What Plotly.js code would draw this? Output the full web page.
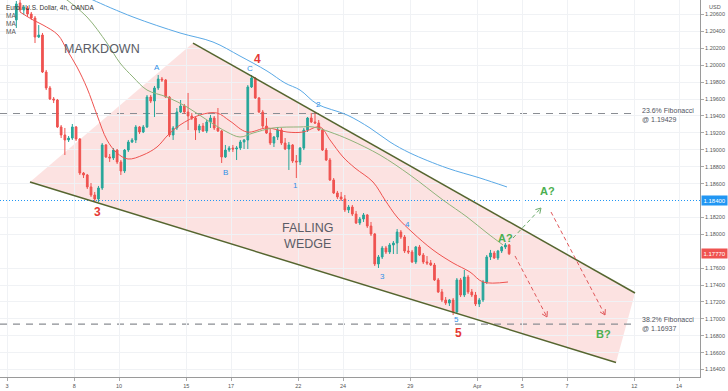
<!DOCTYPE html>
<html><head><meta charset="utf-8">
<script src="https://cdn.plot.ly/plotly-3.0.1.min.js"></script>
<style>html,body{margin:0;padding:0;background:#fff;}#chart{width:728px;height:391px;}</style>
</head><body><div id="chart"></div>
<script>
// ---- EUR/USD 4h candles ----
const open = [
1.20536,1.20737,1.20654,1.20677,1.20606,1.20559,1.20334,1.20358,1.19920,1.19731,
1.19601,1.19589,1.19270,1.19175,1.19116,1.19139,1.19270,1.19128,1.18725,1.18702,
1.18560,1.18465,1.18418,1.18548,1.19057,1.18915,1.18903,1.18997,1.18856,1.18749,
1.18997,1.19092,1.19116,1.19270,1.19210,1.19270,1.19624,1.19577,1.19731,1.19837,
1.19826,1.19624,1.19175,1.19258,1.19447,1.19518,1.19447,1.19400,1.19376,1.19234,
1.19281,1.19222,1.19329,1.19376,1.19258,1.19222,1.18915,1.18997,1.19021,1.19009,
1.19021,1.19092,1.19116,1.19743,1.19849,1.19613,1.19447,1.19281,1.19198,1.19080,
1.19151,1.19234,1.19080,1.19009,1.19057,1.18867,1.18856,1.19021,1.19234,1.19376,
1.19329,1.19317,1.19234,1.18997,1.18879,1.18643,1.18489,1.18442,1.18418,1.18288,
1.18323,1.18240,1.18134,1.18181,1.18229,1.18098,1.18004,1.17649,1.17732,1.17838,
1.17791,1.17874,1.17897,1.18027,1.17968,1.17803,1.17791,1.17673,1.17850,1.17755,
1.17673,1.17661,1.17637,1.17460,1.17318,1.17223,1.17187,1.17223,1.17081,1.17460,
1.17282,1.17495,1.17318,1.17282,1.17176,1.17223,1.17436,1.17732,1.17779,1.17720,
1.17803,1.17850,1.17874];
const high = [
1.20760,1.20772,1.20713,1.20701,1.20630,1.20583,1.20476,1.20382,1.19944,1.19755,
1.19624,1.19601,1.19293,1.19258,1.19163,1.19305,1.19281,1.19139,1.18737,1.18714,
1.18607,1.18501,1.18572,1.19080,1.19068,1.18950,1.19021,1.19009,1.18879,1.19009,
1.19116,1.19139,1.19293,1.19281,1.19293,1.19648,1.19648,1.19755,1.19885,1.19861,
1.19837,1.19636,1.19281,1.19494,1.19589,1.19542,1.19672,1.19435,1.19388,1.19305,
1.19317,1.19352,1.19412,1.19400,1.19494,1.19234,1.19057,1.19045,1.19057,1.19045,
1.19116,1.19128,1.19766,1.19885,1.19861,1.19624,1.19471,1.19376,1.19258,1.19163,
1.19270,1.19258,1.19139,1.19092,1.19068,1.18938,1.19033,1.19258,1.19388,1.19435,
1.19447,1.19352,1.19246,1.19021,1.18903,1.18666,1.18513,1.18501,1.18465,1.18347,
1.18347,1.18276,1.18205,1.18252,1.18240,1.18146,1.18016,1.17755,1.17862,1.17862,
1.17897,1.17921,1.18063,1.18051,1.17992,1.17862,1.17815,1.17862,1.17874,1.17779,
1.17743,1.17696,1.17661,1.17483,1.17353,1.17258,1.17235,1.17247,1.17483,1.17483,
1.17578,1.17519,1.17353,1.17318,1.17247,1.17460,1.17755,1.17815,1.17803,1.17815,
1.17862,1.17897,1.17885];
const low = [
1.20441,1.20630,1.20595,1.20571,1.20536,1.20263,1.20322,1.19908,1.19707,1.19589,
1.19553,1.19258,1.19139,1.18938,1.19092,1.19116,1.19104,1.18702,1.18666,1.18536,
1.18442,1.18382,1.18382,1.18525,1.18903,1.18856,1.18879,1.18832,1.18702,1.18725,
1.18974,1.19080,1.19080,1.19187,1.19198,1.19258,1.19553,1.19388,1.19707,1.19802,
1.19613,1.19151,1.19116,1.19234,1.19435,1.19423,1.19234,1.19352,1.19116,1.19198,
1.19210,1.19198,1.19258,1.19234,1.19210,1.18844,1.18903,1.18974,1.18974,1.18879,
1.18997,1.19009,1.19009,1.19731,1.19601,1.19435,1.19258,1.19187,1.19057,1.19033,
1.19116,1.19057,1.18997,1.18761,1.18844,1.18666,1.18820,1.18997,1.19210,1.19317,
1.19305,1.19222,1.18986,1.18867,1.18631,1.18477,1.18418,1.18394,1.18264,1.18252,
1.18217,1.18122,1.18110,1.18146,1.18075,1.17980,1.17625,1.17602,1.17708,1.17767,
1.17767,1.17767,1.17767,1.17945,1.17779,1.17767,1.17661,1.17649,1.17743,1.17649,
1.17637,1.17625,1.17448,1.17306,1.17199,1.17164,1.17152,1.17045,1.17057,1.17258,
1.17258,1.17294,1.17258,1.17152,1.17140,1.17199,1.17412,1.17696,1.17708,1.17696,
1.17779,1.17826,1.17755];
const close = [
1.20725,1.20654,1.20689,1.20606,1.20559,1.20334,1.20358,1.19920,1.19731,1.19601,
1.19589,1.19270,1.19175,1.19116,1.19139,1.19270,1.19128,1.18725,1.18702,1.18560,
1.18465,1.18418,1.18548,1.19057,1.18915,1.18903,1.18997,1.18856,1.18749,1.18997,
1.19092,1.19116,1.19270,1.19210,1.19270,1.19624,1.19577,1.19731,1.19837,1.19826,
1.19624,1.19175,1.19258,1.19447,1.19518,1.19447,1.19400,1.19376,1.19234,1.19281,
1.19222,1.19329,1.19376,1.19258,1.19222,1.18915,1.18997,1.19021,1.19009,1.19021,
1.19092,1.19116,1.19743,1.19849,1.19613,1.19447,1.19281,1.19198,1.19080,1.19151,
1.19234,1.19080,1.19009,1.19057,1.18867,1.18856,1.19021,1.19234,1.19376,1.19329,
1.19317,1.19234,1.18997,1.18879,1.18643,1.18489,1.18442,1.18418,1.18288,1.18323,
1.18240,1.18134,1.18181,1.18229,1.18098,1.18004,1.17649,1.17732,1.17838,1.17791,
1.17874,1.17897,1.18027,1.17968,1.17803,1.17791,1.17673,1.17850,1.17755,1.17673,
1.17661,1.17637,1.17460,1.17318,1.17223,1.17187,1.17223,1.17081,1.17460,1.17282,
1.17495,1.17318,1.17282,1.17176,1.17223,1.17436,1.17732,1.17779,1.17720,1.17803,
1.17850,1.17874,1.17770];

// ---- x axis: trading days counted from 3 March ----
const dayTickVals = [0,3,5,8,10,13,15,18,21,23,25,28,30];
const dayTickText = ['3','8','10','15','17','22','24','29','Apr','5','7','12','14'];
const firstSlot = 2;          // first visible candle = 3rd 4h slot of 3 March
const slotsPerDay = 6;

// ---- y axis price ticks (1.18400 and 1.17800 sit under the price boxes) ----
const priceTicks = [1.164,1.166,1.168,1.170,1.172,1.174,1.176,1.180,1.182,1.186,1.188,1.190,1.192,1.194,1.196,1.198,1.200,1.202,1.204,1.206];

// ---- moving averages ----
const maFastX = [0.580,1.161,1.607,2.277,2.679,3.125,3.571,4.018,4.464,4.911,5.402,6.071,6.696,7.188,7.723,8.616,9.375,9.955,10.714,11.607,12.500,13.214,13.973,14.420,15.000,15.536,16.339,16.875,17.411,18.125,19.018,19.911,20.670,21.250,22.366];
const maFastY = [1.20630,1.20536,1.20476,1.20358,1.20180,1.19979,1.19731,1.19412,1.19116,1.18962,1.18891,1.18938,1.19033,1.19175,1.19293,1.19412,1.19435,1.19340,1.19210,1.19258,1.19210,1.19210,1.19270,1.19116,1.18915,1.18784,1.18619,1.18406,1.18205,1.18016,1.17815,1.17661,1.17554,1.17436,1.17436];
const maMidX = [2.366,2.679,3.571,4.464,5.045,5.625,6.250,7.143,8.036,8.929,9.821,10.402,10.982,11.875,13.080,13.661,14.420,15.313,16.652,17.991,19.464,20.536,21.429,22.143];
const maMidY = [1.20831,1.20772,1.20571,1.20263,1.20027,1.19861,1.19707,1.19624,1.19506,1.19352,1.19210,1.19151,1.19198,1.19258,1.19270,1.19270,1.19210,1.19116,1.18938,1.18702,1.18406,1.18205,1.18016,1.17874];
const maSlowX = [3.482,3.839,5.625,7.723,9.196,10.402,11.607,12.411,13.080,13.839,15.179,16.205,17.098,17.991,19.643,21.116,22.321];
const maSlowY = [1.20819,1.20772,1.20571,1.20382,1.20275,1.20109,1.19932,1.19790,1.19707,1.19542,1.19412,1.19258,1.19092,1.18962,1.18784,1.18666,1.18560];

// ---- levels & drawings ----
const fib236 = 1.19429, fib382 = 1.16937, keyLevel = 1.18400, lastPrice = 1.17770;
const wedgeLeft = [1.027, 1.18619], wedgeTop = [8.304, 1.20263], wedgeRight = [28.036, 1.17306], wedgeBottom = [27.188, 1.16484];
const projUp = [[22.589, 1.17956], [23.839, 1.18311]];
const projDownA = [[24.286, 1.18264], [26.696, 1.17046]];
const projDownB = [[22.679, 1.17744], [24.107, 1.17022]];

// ---- geometry of the plot area ----
const X_MIN = -0.3125, X_MAX = 30.9375, Y_MIN = 1.16312, Y_MAX = 1.20772;
const PW = 700, PH = 377;
const PX = px => X_MIN + px / PW * (X_MAX - X_MIN);
const PY = py => Y_MAX - py / PH * (Y_MAX - Y_MIN);
const toPx = d => (d - X_MIN) / (X_MAX - X_MIN) * PW;
const toPy = p => (Y_MAX - p) / (Y_MAX - Y_MIN) * PH;

const xs = open.map((_, j) => (firstSlot + j + 0.5) / slotsPerDay);

const GREEN = '#26a69a', RED = '#ef5350';
const traces = [
  {type:'candlestick', x:xs, open, high, low, close,
   increasing:{line:{color:GREEN,width:1}, fillcolor:GREEN},
   decreasing:{line:{color:RED,width:1}, fillcolor:RED},
   whiskerwidth:0, hoverinfo:'skip', showlegend:false},
  {type:'scatter', mode:'lines', x:maFastX, y:maFastY, line:{color:'#ef5350', width:1, shape:'spline'}, hoverinfo:'skip'},
  {type:'scatter', mode:'lines', x:maMidX, y:maMidY, line:{color:'#8fb37a', width:1, shape:'spline'}, hoverinfo:'skip'},
  {type:'scatter', mode:'lines', x:maSlowX, y:maSlowY, line:{color:'#5aa9e6', width:1, shape:'spline'}, hoverinfo:'skip'}
];

function headShapes(p0, p1, color){
  const ax = toPx(p0[0]), ay = toPy(p0[1]), bx = toPx(p1[0]), by = toPy(p1[1]);
  const L = Math.hypot(bx-ax, by-ay), ux = (bx-ax)/L, uy = (by-ay)/L, nx = -uy, ny = ux;
  const s = 5, w = 3;
  return [[bx - s*ux + w*nx, by - s*uy + w*ny], [bx - s*ux - w*nx, by - s*uy - w*ny]].map(p => ({
    type:'line', xref:'x', yref:'y', x0:PX(p[0]), y0:PY(p[1]), x1:p1[0], y1:p1[1], line:{color, width:1}}));
}
function dashLine(p, color){
  return {type:'line', xref:'x', yref:'y', x0:p[0][0], y0:p[0][1], x1:p[1][0], y1:p[1][1], line:{color, width:1, dash:'4px,3px'}};
}

const OLIVE = '#55652f';
const shapes = [
  {type:'path', layer:'below', xref:'x', yref:'y',
   path:`M${wedgeLeft[0]},${wedgeLeft[1]} L${wedgeTop[0]},${wedgeTop[1]} L${wedgeRight[0]},${wedgeRight[1]} L${wedgeBottom[0]},${wedgeBottom[1]} Z`,
   fillcolor:'rgba(239,83,80,0.17)', line:{width:0}},
  {type:'line', layer:'below', xref:'x', yref:'y', x0:X_MIN, x1:PX(632), y0:fib236, y1:fib236, line:{color:'#8a8d93', width:1.2, dash:'7px,6px'}},
  {type:'line', layer:'below', xref:'x', yref:'y', x0:X_MIN, x1:PX(632), y0:fib382, y1:fib382, line:{color:'#8a8d93', width:1.2, dash:'7px,6px'}},
  {type:'line', layer:'below', xref:'x', yref:'y', x0:X_MIN, x1:X_MAX, y0:keyLevel, y1:keyLevel, line:{color:'#2196f3', width:1, dash:'1px,2px'}},
  {type:'line', xref:'x', yref:'y', x0:wedgeTop[0], y0:wedgeTop[1], x1:wedgeRight[0], y1:wedgeRight[1], line:{color:OLIVE, width:1.5}},
  {type:'line', xref:'x', yref:'y', x0:wedgeLeft[0], y0:wedgeLeft[1], x1:wedgeBottom[0], y1:wedgeBottom[1], line:{color:OLIVE, width:1.5}},
  dashLine(projUp, '#6aaa6a'),
  dashLine(projDownA, '#e0575a'),
  dashLine(projDownB, '#e0575a'),
  ...headShapes(projUp[0], projUp[1], '#6aaa6a'),
  ...headShapes(projDownA[0], projDownA[1], '#e0575a'),
  ...headShapes(projDownB[0], projDownB[1], '#e0575a')
];

const FONT = 'Liberation Sans, Arial, sans-serif';
function lbl(text, px, py, size, color, extra){
  return Object.assign({text, x:PX(px), y:PY(py), xref:'x', yref:'y', showarrow:false,
    xanchor:'center', yanchor:'middle', font:{family:FONT, size, color}}, extra||{});
}
const BLUE = '#2f8fe6', RED_T = '#e53935', GREEN_T = '#4caf50';
const annotations = [
  lbl('Euro / U.S. Dollar, 4h, OANDA', 4, 7, 6.5, '#333', {xanchor:'left'}),
  lbl('MA', 4, 15.5, 6.5, '#555', {xanchor:'left'}),
  lbl('MA', 4, 23.5, 6.5, '#555', {xanchor:'left'}),
  lbl('MA', 4, 31.5, 6.5, '#555', {xanchor:'left'}),
  lbl('MARKDOWN', 102, 49, 12.5, '#5a5d66'),
  lbl('FALLING<br>WEDGE', 307, 236, 12.5, '#5a5d66'),
  lbl('A', 157, 67, 8, BLUE), lbl('B', 225, 172, 8, BLUE), lbl('C', 250, 68, 8, BLUE),
  lbl('1', 295, 185, 8, BLUE), lbl('2', 318, 104, 8, BLUE), lbl('3', 382, 276, 8, BLUE),
  lbl('4', 407, 224, 8, BLUE), lbl('5', 456, 319, 8, BLUE),
  lbl('<b>4</b>', 257, 59, 12, RED_T), lbl('<b>3</b>', 97, 212, 12, RED_T), lbl('<b>5</b>', 458, 333, 12, RED_T),
  lbl('<b>A?</b>', 505, 238, 11, GREEN_T), lbl('<b>A?</b>', 547, 191, 11, GREEN_T), lbl('<b>B?</b>', 603, 334, 11, GREEN_T),
  lbl('23.6% Fibonacci<br>@ 1.19429', 640, 114.5, 7, '#50535e', {xanchor:'left', align:'left'}),
  lbl('38.2% Fibonacci<br>@ 1.16937', 640, 323.5, 7, '#50535e', {xanchor:'left', align:'left'}),
  {text:'USD', xref:'paper', yref:'paper', x:1, y:1, xanchor:'left', yanchor:'top', xshift:7, yshift:-2, showarrow:false, font:{family:FONT, size:5.5, color:'#555'}},
  {text:keyLevel.toFixed(5), xref:'paper', yref:'y', x:1, y:keyLevel, xanchor:'left', yanchor:'middle', xshift:1, showarrow:false,
   bgcolor:'#2196f3', borderpad:1.5, font:{family:FONT, size:6, color:'#fff'}},
  {text:lastPrice.toFixed(5), xref:'paper', yref:'y', x:1, y:lastPrice, xanchor:'left', yanchor:'middle', xshift:1, showarrow:false,
   bgcolor:'#ef5350', borderpad:1.5, font:{family:FONT, size:6, color:'#fff'}}
];

const layout = {
  width:728, height:391, margin:{l:0, r:28, t:0, b:14},
  paper_bgcolor:'#fff', plot_bgcolor:'#fff', showlegend:false, hovermode:false,
  font:{family:FONT}, boxgap:0.35,
  xaxis:{range:[X_MIN, X_MAX], tickvals:dayTickVals, ticktext:dayTickText, tickfont:{size:5.5, color:'#555'},
    ticks:'outside', ticklen:3, tickcolor:'#aaa', showgrid:true, gridcolor:'#f0f2f5', showline:true, linecolor:'#9a9a9a',
    zeroline:false, rangeslider:{visible:false}, fixedrange:true},
  yaxis:{side:'right', range:[Y_MIN, Y_MAX], tickvals:priceTicks, tickformat:'.5f', tickfont:{size:5.5, color:'#555'},
    ticks:'outside', ticklen:3, tickcolor:'#aaa', showgrid:true, gridcolor:'#f0f2f5', showline:true, linecolor:'#9a9a9a',
    zeroline:false, fixedrange:true},
  shapes, annotations
};
Plotly.newPlot('chart', traces, layout, {staticPlot:true, displayModeBar:false});
</script>
</body></html>
